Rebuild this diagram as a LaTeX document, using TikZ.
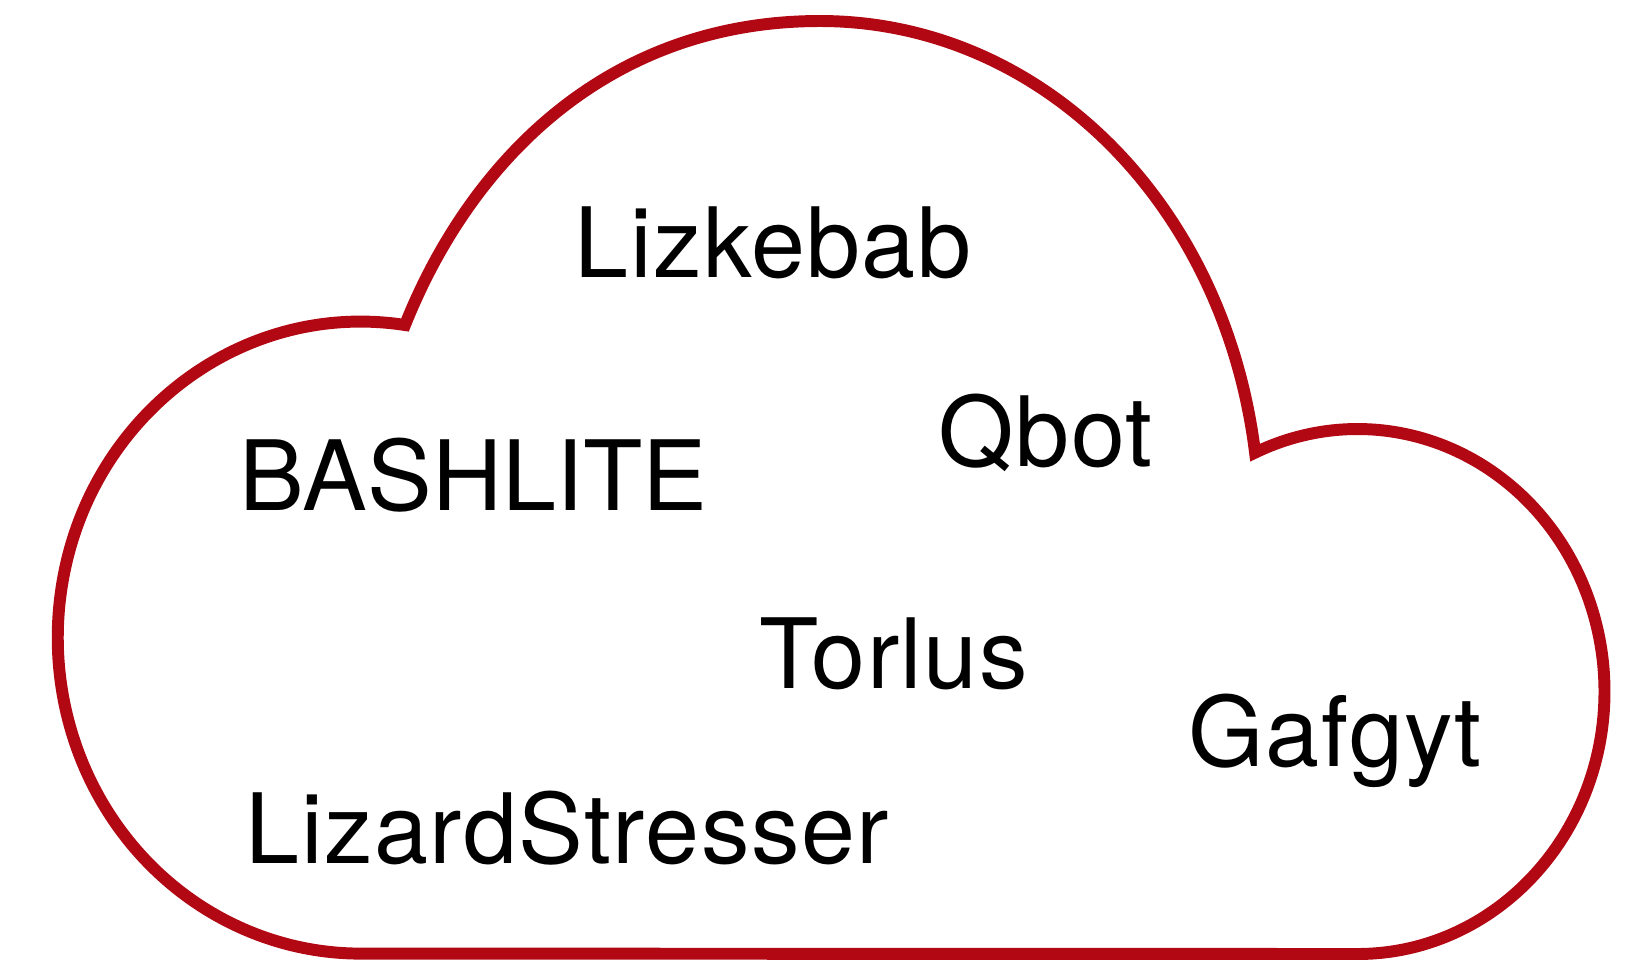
\documentclass[tikz,border=0pt]{standalone}
\usepackage{fontspec}
\setmainfont{TeX Gyre Heros}
\usepackage{tikz}
\definecolor{cloudred}{RGB}{178,8,20}

\begin{document}
\begin{tikzpicture}[x=0.01cm, y=-0.01cm,
           cloud/.style={draw=cloudred, line width=3.4pt, line join=miter},
           botname/.style={anchor=base west, inner sep=0pt,
              font=\fontsize{27.6}{33}\selectfont},
           tracked/.style={botname, font=\fontsize{27.6}{33}\selectfont\addfontfeature{LetterSpace=1.5}},
        ]
        \useasboundingbox (0,0) rectangle (1641,963);

        \draw[cloud] (405,325) arc[start angle=278.4, end angle=90, x radius=303, y radius=316]
           -- (1357.5,954) arc[start angle=90, end angle=-114.5, x radius=247, y radius=262.5]
           .. controls (1224,202) and (1040,21) .. (820,21)
           .. controls (610,21) and (471.8,158) .. cycle;

        \node[tracked] at (574,277) (lizkebab) {Lizkebab};
        \node[botname] at (239,510) (bashlite) {BASHLITE};
        \node[tracked] at (938,466) (qbot) {Qbot};
        \node[tracked] at (759,688) (torlus) {Torlus};
        \node[tracked] at (1188,766) (gafgyt) {Gafgyt};
        \node[tracked] at (245,863) (lizardstresser) {LizardStresser};
     \end{tikzpicture}
\end{document}
